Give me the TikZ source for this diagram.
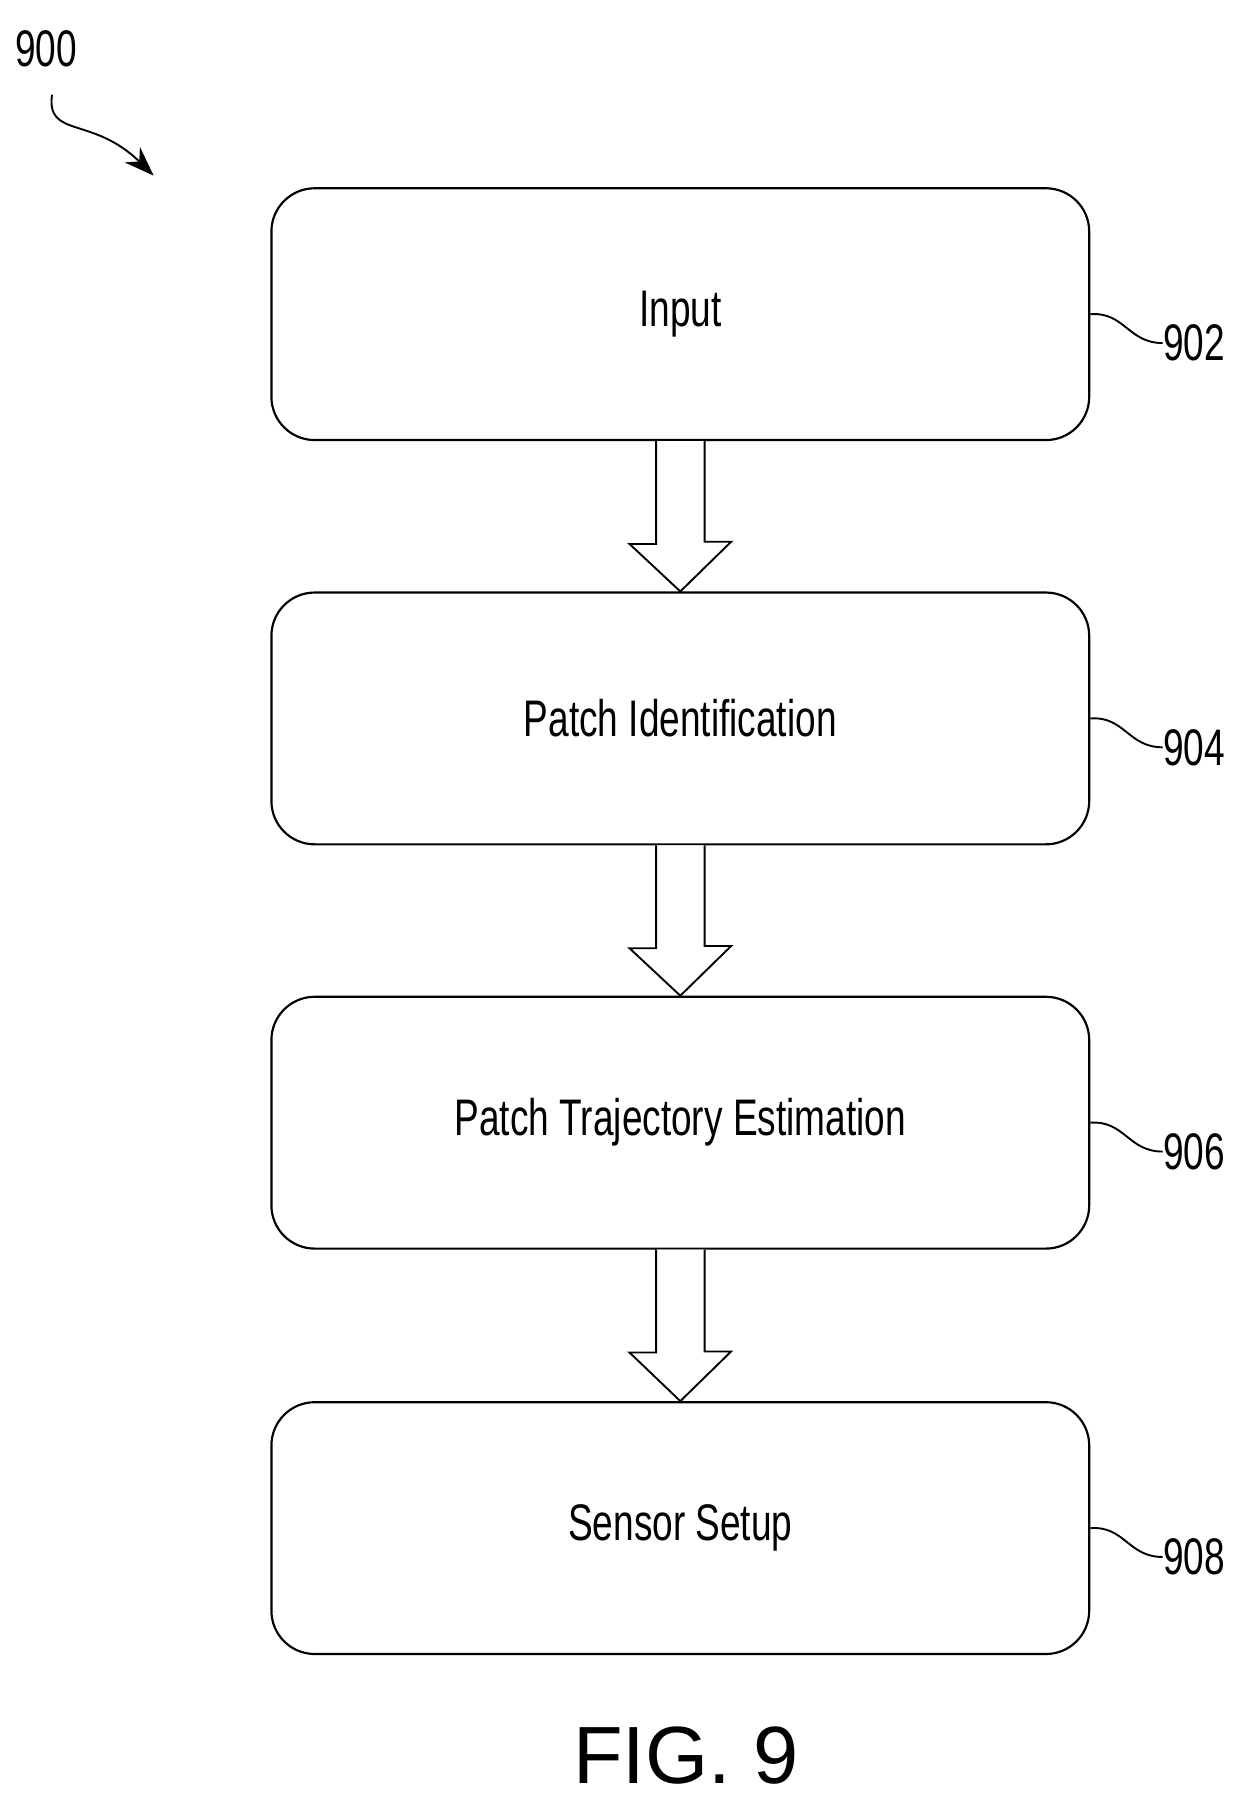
\documentclass[tikz,border=0pt]{standalone}
\usepackage{fontspec}
\setmainfont{Liberation Sans}
\newfontfamily\narrowfont[FakeStretch=0.72]{Liberation Sans}
\usetikzlibrary{positioning,arrows.meta,calc}
\tikzset{
  stage/.style={draw,line width=1.6pt,rounded corners=32pt,minimum width=708*0.3mm,minimum height=218*0.3mm,font=\narrowfont\fontsize{38}{42}\selectfont},
  flow/.style={draw,line width=1.4pt,fill=white,line join=miter},
  tag/.style={font=\narrowfont\fontsize{38}{42}\selectfont},
  lead/.style={line width=1.4pt}
}
\begin{document}
\begin{tikzpicture}[x=0.03cm,y=-0.03cm]
\useasboundingbox (0,0) rectangle (1084,1574);
% the four stages
\node[stage] (input) at (589,272) {Input};
\node[stage] (patch) at (589,622) {Patch Identification};
\node[stage] (traj) at (589,972) {Patch Trajectory Estimation};
\node[stage] (sensor) at (589,1323) {Sensor Setup};
% hollow arrows between stages
\foreach \a/\b in {input/patch,patch/traj,traj/sensor}{
  \draw[flow] ($(\a.south)+(-21,0)$) -- ++(0,89) -- ++(-23,0)
     -- (\b.north) -- ++(44,-43) -- ++(-23,0) -- ($(\a.south)+(21,0)$);
}
% reference numerals
\foreach \n/\t in {input/902,patch/904,traj/906,sensor/908}{
  \node[tag] (l\n) at ([xshift=90*0.3mm,yshift=-25*0.3mm]\n.east) {\t};
  \draw[lead] (\n.east) .. controls +(30,-2) and +(-30,0) .. ([xshift=3]l\n.west);
}
\node[tag] (fig) at (40,42) {900};
\coordinate (figtip) at (133,152);
\draw[lead,-{Stealth[length=22pt,width=16pt]}] (45,82) .. controls (40,120) and (80,100) .. (figtip);
\node[font=\fontsize{60}{64}\selectfont] (cap) at (594,1520) {FIG. 9};
\end{tikzpicture}
\end{document}
